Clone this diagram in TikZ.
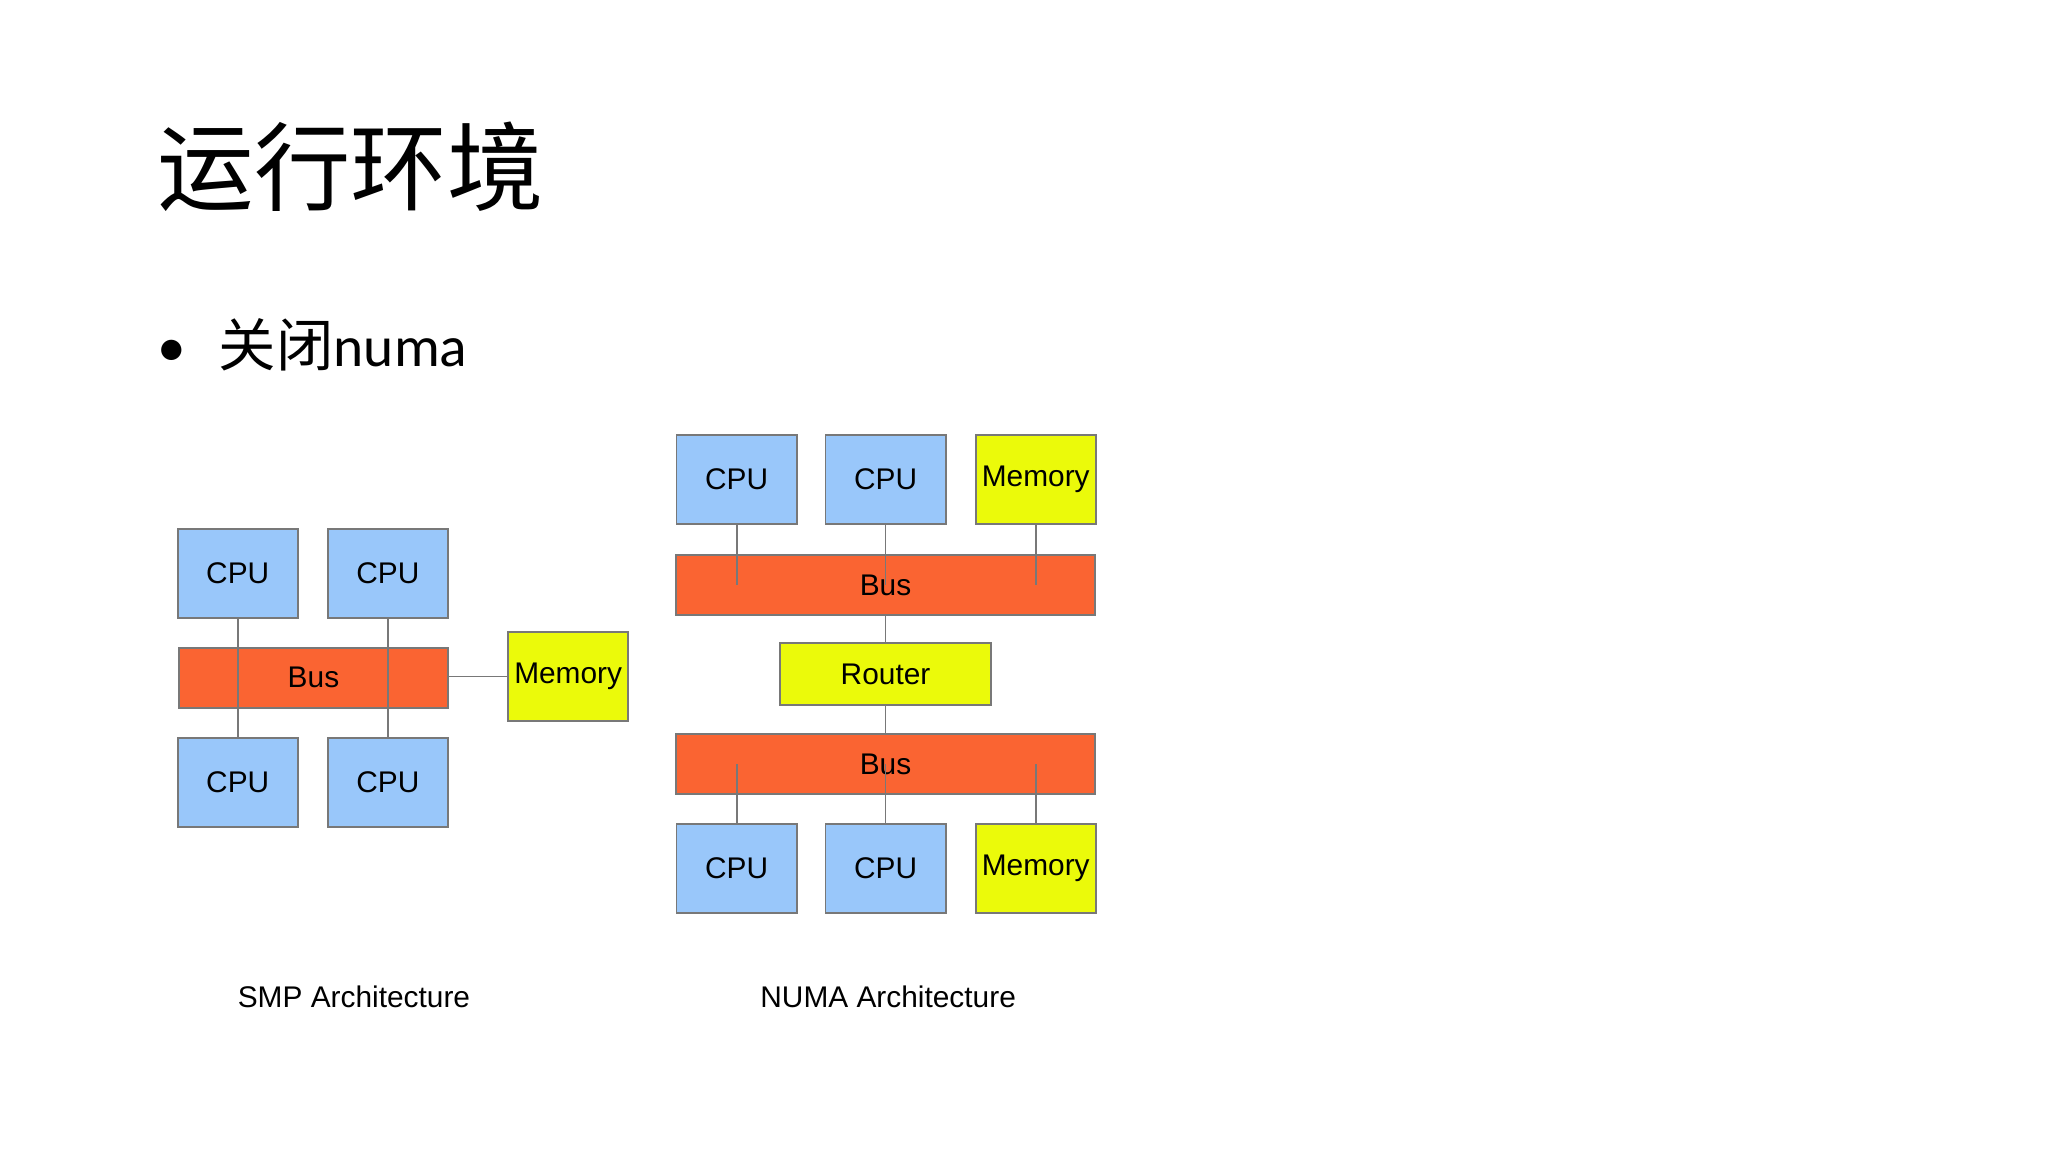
\documentclass[tikz,border=0pt]{standalone}
\usepackage{fontspec}
\setmainfont{Liberation Sans}
\newfontfamily\cjk{Noto Sans CJK SC}
\newfontfamily\cali{Carlito}
\definecolor{cpublue}{RGB}{153,199,250}
\definecolor{busred}{RGB}{250,100,50}
\definecolor{memyel}{RGB}{235,250,10}
\definecolor{edge}{RGB}{120,120,120}
\tikzset{
  box/.style={draw=edge, line width=0.4pt, inner sep=0pt, font=\fontsize{6.5}{7}\selectfont},
  cpu/.style={box, fill=cpublue, minimum width=0.92cm, minimum height=0.68cm},
  mem/.style={box, fill=memyel, minimum width=0.92cm, minimum height=0.68cm},
  bus/.style={box, fill=busred, minimum height=0.46cm},
  wire/.style={draw=edge, line width=0.4pt}
}
\begin{document}
\begin{tikzpicture}[x=0.01cm,y=-0.01cm]
  \useasboundingbox (0,0) rectangle (1568,882);
  % title and bullet
  \node[anchor=west, inner sep=0pt, font=\cjk\fontsize{21}{24}\selectfont] (title) at (120,128) {运行环境};
  \node[anchor=west, inner sep=0pt, font=\fontsize{12.5}{14}\selectfont] (item) at (120,264) {\cali•\hspace{0.25cm}{\cjk 关闭}numa};
  %%% SMP
  \node[cpu] (sc1) at (182,439) {CPU};
  \node[cpu] (sc2) at (297,439) {CPU};
  \node[bus, minimum width=2.06cm] (sbus) at (240,519) {Bus};
  \node[cpu] (sc3) at (182,599) {CPU};
  \node[cpu] (sc4) at (297,599) {CPU};
  \node[mem] (smem) at (435,518) {Memory};
  \foreach \c in {sc1,sc2,sc3,sc4}
    \draw[wire] (\c) -- (\c |- sbus);
  \draw[wire] (sbus.east |- smem) -- (smem);
  \node[font=\fontsize{6.5}{7}\selectfont] (slabel) at (271,763) {SMP Architecture};
  %%% NUMA
  \node[cpu] (nc1) at (564,367) {CPU};
  \node[cpu] (nc2) at (678,367) {CPU};
  \node[mem] (nm1) at (793,367) {Memory};
  \node[bus, minimum width=3.21cm] (nbus1) at (678,448) {Bus};
  \node[mem, minimum width=1.61cm, minimum height=0.47cm] (router) at (678,516) {Router};
  \node[bus, minimum width=3.21cm] (nbus2) at (678,585) {Bus};
  \node[cpu] (nc3) at (564,665) {CPU};
  \node[cpu] (nc4) at (678,665) {CPU};
  \node[mem] (nm2) at (793,665) {Memory};
  \foreach \c in {nc1,nc2,nm1}
    \draw[wire] (\c) -- (\c |- nbus1);
  \foreach \c in {nc3,nc4,nm2}
    \draw[wire] (\c) -- (\c |- nbus2);
  \draw[wire] (nbus1) -- (router);
  \draw[wire] (router) -- (nbus2);
  \node[font=\fontsize{6.5}{7}\selectfont] (nlabel) at (680,763) {NUMA Architecture};
\end{tikzpicture}
\end{document}
